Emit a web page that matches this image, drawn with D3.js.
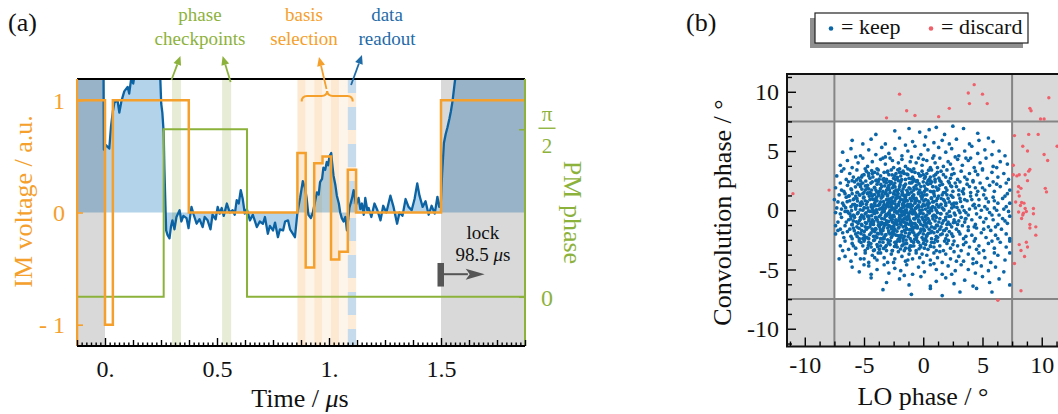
<!DOCTYPE html>
<html><head><meta charset="utf-8">
<script src="https://cdn.jsdelivr.net/npm/d3@7"></script>
<style>
body{margin:0;background:#fff;}
svg{display:block;font-family:"Liberation Serif","DejaVu Serif",serif;}
</style></head><body>
<svg id="c" width="1058" height="414"></svg>
<script>
// ---------------- DATA: panel (a) ----------------
const traceT=[-0.125,-0.007,-0.005,0.005,0.019,0.027,0.035,0.042,0.056,0.064,0.073,0.086,0.101,0.108,0.116,0.126,0.138,0.243,0.251,0.256,0.262,0.265,0.27,0.273,0.279,0.288,0.295,0.301,0.31,0.319,0.333,0.341,0.35,0.364,0.373,0.386,0.396,0.409,0.422,0.436,0.445,0.458,0.471,0.48,0.494,0.503,0.512,0.521,0.53,0.544,0.557,0.57,0.579,0.588,0.597,0.606,0.615,0.624,0.633,0.647,0.66,0.678,0.691,0.705,0.714,0.727,0.736,0.75,0.759,0.772,0.781,0.795,0.804,0.817,0.826,0.839,0.848,0.859,0.871,0.883,0.893,0.9,0.908,0.919,0.928,0.938,0.946,0.954,0.96,0.969,0.975,0.983,0.99,0.996,1.002,1.01,1.013,1.02,1.028,1.035,1.044,1.05,1.057,1.065,1.073,1.08,1.091,1.103,1.11,1.121,1.132,1.14,1.147,1.155,1.162,1.171,1.177,1.189,1.203,1.216,1.23,1.242,1.256,1.274,1.288,1.304,1.315,1.328,1.342,1.355,1.369,1.382,1.394,1.404,1.418,1.431,1.445,1.458,1.472,1.484,1.492,1.499,1.505,1.513,1.521,1.529,1.538,1.544,1.552,1.559,1.567,1.576,1.875];
const traceV=[1.4,1.4,0.56,0.6,0.57,0.77,0.9,0.98,1.0,0.89,0.99,1.08,1.12,1.06,1.18,1.15,1.3,1.4,0.97,0.89,0.71,0.4,0.05,-0.16,-0.2,-0.23,-0.12,-0.07,-0.15,-0.04,0.02,-0.08,-0.03,-0.05,-0.14,0.05,-0.02,-0.1,-0.06,-0.13,-0.04,-0.07,-0.15,-0.02,-0.06,0.05,-0.01,0.04,-0.03,0.08,0.0,0.02,-0.02,0.11,0.08,0.2,0.12,-0.01,0.03,-0.07,-0.02,-0.13,-0.08,-0.1,-0.04,-0.19,-0.12,-0.16,-0.09,-0.22,-0.15,-0.16,-0.08,-0.07,-0.15,-0.19,-0.22,0.0,0.13,0.28,0.22,0.13,-0.02,-0.05,0.0,0.1,0.18,0.16,0.27,0.3,0.4,0.38,0.45,0.42,0.5,0.53,0.46,0.33,0.25,0.15,0.08,0.0,-0.05,-0.08,-0.04,-0.16,0.04,0.13,0.2,0.07,0.13,0.03,0.08,-0.02,0.13,0.02,0.04,-0.04,0.08,0.02,-0.07,0.06,0.0,0.15,0.05,-0.1,0.0,-0.03,0.12,0.05,0.02,0.12,0.26,0.15,0.05,0.1,-0.02,0.06,-0.01,0.14,0.05,0.08,0.35,0.62,0.7,0.76,0.84,0.9,1.0,1.12,1.25,1.4,1.4];
const imT=[-0.125,-0.125,0,0.035,0.374,0.859,0.896,0.934,0.971,1.009,1.046,1.084,1.121,1.5,1.875];
const imV=[-1.3,1,-1,1,0,0.53,-0.49,0.44,0.5,-0.42,-0.35,0.38,0,1,1];
const pmT=[-0.125,0.262,0.634,1.875];
const pmV=[0,Math.PI/2,0,0];
const preRegion=[-0.125,0];
const lockRegion=[1.5,1.875];
const checkpointWindows=[[0.299,0.339],[0.523,0.563]];
const basisEdges=[0.859,0.896,0.934,0.971,1.009,1.046,1.084];
const readoutWindow=[1.084,1.121];
const xMajorA=[0,0.5,1,1.5];
const xMajorLabelsA=["0.","0.5","1.","1.5"];
const imTicks=[1,0,-1];
const imTickLabels=["1","0","- 1"];
const pmTicks=[Math.PI/2,0];

// ---------------- DATA: panel (b) ----------------
const keep=[
[-2.4,6.7],[-1.2,6.9],[-0.3,6.6],[0.5,6.8],[1.1,7.0],[2.5,7.1],[3.4,6.9],[4.6,6.5],[-4.0,6.4],[1.8,6.4],
[-6.0,5.9],[-4.4,6.0],[-3.2,5.6],[-2.0,6.1],[-0.9,5.8],[0.2,6.2],[0.9,5.7],[1.6,5.9],[2.8,6.0],[3.9,5.6],[4.7,5.9],[5.5,6.1],[-5.1,5.6],[-1.5,5.5],[2.2,5.6],[5.9,5.8],
[-6.8,4.9],[-6.1,5.2],[-5.3,4.6],[-4.6,5.1],[-4.0,4.7],[-3.5,5.3],[-2.9,4.8],[-2.4,5.2],[-1.8,4.6],[-1.3,5.0],[-0.7,5.4],[-0.2,4.7],[0.4,5.1],[0.9,4.6],[1.3,5.3],[1.9,4.9],[2.4,5.2],[3.0,4.6],[3.5,5.0],[4.1,5.4],[4.6,4.8],[5.2,5.1],[5.8,4.7],[6.4,5.0],[-5.7,4.5],[-3.2,4.5],[0.1,5.5],[2.7,4.5],[6.9,4.6],[-1.0,4.5],
[-7.0,3.8],[-6.4,4.2],[-6.0,3.6],[-5.5,4.0],[-5.1,4.4],[-4.7,3.7],[-4.3,4.1],[-3.9,3.5],[-3.6,4.3],[-3.2,3.9],[-2.8,4.4],[-2.5,3.6],[-2.1,4.0],[-1.8,4.3],[-1.5,3.7],[-1.1,4.1],[-0.8,3.5],[-0.4,4.4],[-0.1,3.8],[0.3,4.2],[0.6,3.6],[1.0,4.0],[1.4,4.4],[1.7,3.7],[2.1,4.1],[2.5,3.5],[2.9,4.3],[3.3,3.8],[3.8,4.2],[4.3,3.6],[4.8,4.0],[5.3,4.4],[5.9,3.7],[6.5,4.1],[7.1,3.9],[-4.9,3.5],[-3.4,4.4],[-2.0,3.5],[-0.6,4.0],[0.8,4.4],[2.3,3.9],[3.6,4.4],[5.0,3.5],[-6.7,3.5],[-1.3,3.5],[0.0,4.3],[1.2,3.6],[4.0,4.4],[6.2,3.6],[-2.6,4.2],
[-7.3,2.9],[-6.9,3.3],[-6.5,2.6],[-6.2,3.1],[-5.9,2.8],[-5.6,3.4],[-5.3,2.5],[-5.0,3.0],[-4.8,3.3],[-4.5,2.7],[-4.3,3.1],[-4.0,2.5],[-3.8,3.4],[-3.6,2.9],[-3.3,3.2],[-3.1,2.6],[-2.9,3.0],[-2.7,3.4],[-2.5,2.7],[-2.3,3.1],[-2.1,2.5],[-1.9,2.9],[-1.7,3.3],[-1.5,2.6],[-1.3,3.0],[-1.1,3.4],[-0.9,2.8],[-0.7,3.2],[-0.5,2.5],[-0.3,2.9],[-0.1,3.3],[0.1,2.7],[0.3,3.1],[0.5,2.6],[0.7,3.4],[0.9,2.9],[1.2,3.2],[1.4,2.5],[1.7,3.0],[2.0,3.4],[2.3,2.7],[2.6,3.1],[2.9,2.6],[3.2,3.3],[3.5,2.8],[3.9,3.1],[4.2,2.5],[4.6,3.0],[5.0,3.4],[5.4,2.7],[5.8,3.2],[6.3,2.8],[6.8,3.1],[7.2,2.6],[-4.6,2.9],[-3.4,2.6],[-2.4,2.9],[-1.6,3.1],[-0.8,2.6],[0.0,3.0],[0.6,2.8],[1.5,3.3],[2.4,3.0],[3.7,2.6],[-5.2,2.8],[-4.1,3.2],[-2.0,3.2],[-1.2,2.7],[-0.4,3.1],[1.0,2.6],[1.9,2.8],[4.4,3.3],[-6.0,2.5],[-3.0,3.3],[0.4,2.5],
[-7.4,1.9],[-7.0,2.3],[-6.7,1.6],[-6.4,2.1],[-6.1,1.8],[-5.8,2.4],[-5.6,1.5],[-5.3,2.0],[-5.1,2.3],[-4.9,1.7],[-4.7,2.1],[-4.5,1.5],[-4.3,2.4],[-4.1,1.9],[-3.9,2.2],[-3.7,1.6],[-3.5,2.0],[-3.3,2.4],[-3.1,1.7],[-2.9,2.1],[-2.8,1.5],[-2.6,1.9],[-2.4,2.3],[-2.2,1.6],[-2.0,2.0],[-1.9,2.4],[-1.7,1.8],[-1.5,2.2],[-1.3,1.5],[-1.2,1.9],[-1.0,2.3],[-0.8,1.7],[-0.6,2.1],[-0.4,1.5],[-0.2,2.0],[0.0,2.4],[0.2,1.8],[0.4,2.2],[0.6,1.6],[0.8,2.0],[1.0,2.4],[1.2,1.7],[1.4,2.1],[1.7,1.5],[1.9,1.9],[2.2,2.3],[2.5,1.6],[2.8,2.0],[3.1,2.4],[3.4,1.8],[3.7,2.2],[4.0,1.5],[4.4,1.9],[4.8,2.3],[5.2,1.7],[5.6,2.1],[6.0,1.6],[6.5,2.0],[7.0,2.3],[7.3,1.7],[-6.9,1.7],[-5.5,2.2],[-4.6,1.8],[-3.8,2.4],[-3.0,1.9],[-2.3,1.7],[-1.6,2.0],[-0.9,2.4],[-0.3,1.7],[0.3,2.3],[0.9,1.6],[1.5,2.4],[2.0,1.7],[2.7,2.3],[3.3,1.6],[4.2,2.4],[5.0,1.9],[5.9,2.4],[-6.3,2.4],[-5.0,1.5],[-4.0,1.7],[-3.4,1.6],[-2.5,2.1],[-1.8,1.6],[-1.1,1.8],[-0.5,2.4],[0.1,1.6],[0.7,2.4],[1.3,1.8],[2.4,2.0],[3.0,1.7],[3.9,2.0],[4.6,1.6],[6.2,2.2],[-2.7,2.4],
[-7.5,0.9],[-7.1,1.3],[-6.8,0.6],[-6.5,1.1],[-6.2,0.8],[-6.0,1.4],[-5.8,0.5],[-5.6,1.0],[-5.4,1.3],[-5.2,0.7],[-5.0,1.1],[-4.8,0.5],[-4.7,1.4],[-4.5,0.9],[-4.3,1.2],[-4.1,0.6],[-4.0,1.0],[-3.8,1.4],[-3.6,0.7],[-3.5,1.1],[-3.3,0.5],[-3.1,0.9],[-3.0,1.3],[-2.8,0.6],[-2.7,1.0],[-2.5,1.4],[-2.4,0.8],[-2.2,1.2],[-2.1,0.5],[-1.9,0.9],[-1.8,1.3],[-1.6,0.7],[-1.5,1.1],[-1.3,0.5],[-1.2,1.4],[-1.0,0.8],[-0.9,1.2],[-0.7,0.6],[-0.6,1.0],[-0.4,1.4],[-0.3,0.7],[-0.1,1.1],[0.0,0.5],[0.2,0.9],[0.3,1.3],[0.5,0.6],[0.7,1.0],[0.9,1.4],[1.1,0.8],[1.3,1.2],[1.5,0.5],[1.7,0.9],[2.0,1.3],[2.2,0.7],[2.5,1.1],[2.8,0.6],[3.1,1.0],[3.4,1.4],[3.7,0.8],[4.0,1.2],[4.3,0.5],[4.7,0.9],[5.1,1.3],[5.5,0.7],[5.9,1.1],[6.3,0.6],[6.7,1.0],[7.1,1.4],[7.3,0.6],[-6.6,1.4],[-5.9,0.9],[-5.3,0.6],[-4.9,0.8],[-4.4,1.4],[-3.9,0.8],[-3.4,1.2],[-2.9,0.8],[-2.3,1.0],[-1.7,0.6],[-1.4,0.8],[-1.1,1.0],[-0.8,1.3],[-0.5,0.8],[-0.2,1.2],[0.1,1.3],[0.4,0.8],[0.8,0.7],[1.2,1.0],[1.6,1.3],[2.1,1.0],[2.6,0.6],[3.0,1.3],[3.5,0.9],[4.1,0.9],[4.5,1.3],[5.3,1.0],[6.0,0.8],[6.9,1.2],[-7.2,0.7],[-6.3,1.2],[-5.7,1.2],[-5.1,1.4],[-4.2,0.9],[-3.7,0.5],[-3.2,1.4],[-2.6,0.6],[-2.0,1.1],[-1.4,1.3],[-0.7,0.9],[1.9,0.6],
[-7.3,0.2],[-7.0,-0.3],[-6.7,0.4],[-6.4,-0.1],[-6.1,0.3],[-5.9,-0.4],[-5.7,0.1],[-5.5,-0.2],[-5.3,0.4],[-5.1,0.0],[-4.9,-0.3],[-4.7,0.2],[-4.6,-0.5],[-4.4,0.3],[-4.2,-0.1],[-4.1,0.4],[-3.9,-0.2],[-3.7,0.1],[-3.6,-0.4],[-3.4,0.3],[-3.3,-0.1],[-3.1,0.4],[-3.0,-0.3],[-2.8,0.0],[-2.7,0.3],[-2.5,-0.4],[-2.4,0.1],[-2.2,-0.2],[-2.1,0.4],[-1.9,-0.1],[-1.8,0.2],[-1.6,-0.4],[-1.5,0.0],[-1.3,0.3],[-1.2,-0.3],[-1.0,0.1],[-0.9,0.4],[-0.7,-0.2],[-0.6,0.2],[-0.4,-0.5],[-0.3,0.0],[-0.1,0.3],[0.0,-0.3],[0.2,0.1],[0.4,0.4],[0.5,-0.2],[0.7,0.2],[0.9,-0.4],[1.1,0.0],[1.3,0.3],[1.5,-0.3],[1.7,0.1],[1.9,0.4],[2.2,-0.1],[2.4,0.2],[2.7,-0.4],[3.0,0.0],[3.3,0.3],[3.6,-0.2],[3.9,0.1],[4.2,0.4],[4.5,-0.3],[4.9,0.0],[5.2,0.3],[5.6,-0.2],[6.0,0.2],[6.4,-0.4],[6.8,0.1],[7.2,-0.1],[-6.9,0.1],[-6.2,-0.3],[-5.6,0.4],[-5.0,0.2],[-4.5,-0.1],[-4.0,0.0],[-3.5,0.1],[-3.2,0.2],[-2.9,-0.2],[-2.6,0.2],[-2.3,0.3],[-2.0,-0.4],[-1.7,-0.1],[-1.4,-0.2],[-1.1,0.3],[-0.8,-0.1],[-0.5,0.3],[-0.2,-0.2],[0.1,0.4],[0.3,-0.4],[0.6,0.0],[0.8,0.3],[1.2,-0.2],[1.6,0.2],[2.0,-0.3],[2.6,0.3],[3.1,-0.2],[3.8,-0.4],[4.4,0.2],[5.4,0.1],[6.2,0.0],[7.0,0.3],[-7.4,-0.2],[-6.6,-0.1],[-5.2,-0.4],[-4.3,0.1],[-3.8,0.4],[-2.8,-0.4],[-2.3,-0.1],[-1.6,0.4],[-0.9,-0.3],[0.4,-0.1],[1.0,0.2],[2.3,-0.5],[4.7,0.4],[5.8,-0.4],
[-7.2,-1.0],[-6.9,-0.6],[-6.6,-1.3],[-6.3,-0.8],[-6.0,-1.2],[-5.8,-0.6],[-5.6,-1.4],[-5.4,-0.9],[-5.2,-1.2],[-5.0,-0.7],[-4.8,-1.1],[-4.7,-0.5],[-4.5,-1.4],[-4.3,-0.8],[-4.2,-1.2],[-4.0,-0.6],[-3.8,-1.0],[-3.7,-1.4],[-3.5,-0.7],[-3.4,-1.1],[-3.2,-0.5],[-3.1,-0.9],[-2.9,-1.3],[-2.8,-0.6],[-2.6,-1.0],[-2.5,-1.4],[-2.3,-0.8],[-2.2,-1.2],[-2.0,-0.6],[-1.9,-1.0],[-1.7,-1.4],[-1.6,-0.7],[-1.4,-1.1],[-1.3,-0.5],[-1.1,-0.9],[-1.0,-1.3],[-0.8,-0.7],[-0.7,-1.1],[-0.5,-1.4],[-0.4,-0.8],[-0.2,-1.2],[-0.1,-0.6],[0.1,-1.0],[0.3,-1.4],[0.4,-0.7],[0.6,-1.1],[0.8,-0.5],[1.0,-0.9],[1.2,-1.3],[1.4,-0.7],[1.6,-1.1],[1.9,-0.6],[2.1,-1.0],[2.4,-1.4],[2.6,-0.8],[2.9,-1.2],[3.2,-0.6],[3.5,-1.0],[3.8,-1.4],[4.1,-0.8],[4.4,-1.2],[4.8,-0.6],[5.1,-1.0],[5.5,-1.4],[5.9,-0.8],[6.3,-1.2],[6.7,-0.7],[7.1,-1.1],[7.3,-0.5],[-6.5,-1.0],[-5.9,-0.9],[-5.3,-0.6],[-4.9,-1.4],[-4.4,-1.0],[-3.9,-0.8],[-3.3,-1.3],[-3.0,-1.0],[-2.7,-0.8],[-2.4,-1.1],[-2.1,-0.9],[-1.8,-0.8],[-1.5,-1.3],[-1.2,-0.7],[-0.9,-1.1],[-0.6,-0.6],[-0.3,-1.0],[0.0,-1.3],[0.2,-0.8],[0.7,-1.4],[1.1,-0.6],[1.5,-1.4],[2.0,-1.2],[2.7,-1.0],[3.0,-0.9],[3.6,-0.7],[4.3,-1.4],[5.3,-0.7],[6.1,-1.4],[6.9,-0.9],[-7.4,-1.3],[-6.1,-0.5],[-5.5,-1.1],[-4.6,-0.9],[-3.6,-1.2],[-2.6,-0.5],[-1.6,-1.0],[-0.6,-1.3],[0.5,-0.9],[1.7,-0.9],[3.3,-1.3],
[-7.4,-2.0],[-7.0,-1.6],[-6.7,-2.3],[-6.4,-1.8],[-6.1,-2.2],[-5.9,-1.5],[-5.7,-2.0],[-5.4,-2.4],[-5.2,-1.7],[-5.0,-2.1],[-4.8,-1.6],[-4.6,-2.4],[-4.4,-1.9],[-4.2,-2.2],[-4.0,-1.6],[-3.8,-2.0],[-3.6,-2.4],[-3.4,-1.7],[-3.2,-2.1],[-3.0,-1.5],[-2.9,-1.9],[-2.7,-2.3],[-2.5,-1.7],[-2.3,-2.1],[-2.1,-1.5],[-2.0,-2.4],[-1.8,-1.8],[-1.6,-2.2],[-1.4,-1.6],[-1.2,-2.0],[-1.1,-2.4],[-0.9,-1.7],[-0.7,-2.1],[-0.5,-1.5],[-0.3,-1.9],[-0.1,-2.3],[0.1,-1.7],[0.3,-2.1],[0.5,-1.6],[0.7,-2.4],[0.9,-1.9],[1.1,-2.2],[1.4,-1.6],[1.6,-2.0],[1.9,-2.4],[2.2,-1.8],[2.5,-2.2],[2.8,-1.6],[3.1,-2.0],[3.4,-2.4],[3.8,-1.7],[4.1,-2.1],[4.5,-1.5],[4.9,-1.9],[5.3,-2.3],[5.7,-1.7],[6.1,-2.1],[6.6,-1.6],[7.0,-2.0],[7.3,-2.4],[-6.8,-1.9],[-6.0,-2.4],[-5.5,-1.9],[-4.9,-2.3],[-4.3,-1.6],[-3.9,-2.3],[-3.3,-2.4],[-2.8,-2.0],[-2.4,-1.6],[-1.9,-2.1],[-1.5,-1.9],[-1.0,-1.6],[-0.6,-2.4],[-0.2,-1.6],[0.2,-2.4],[0.6,-1.9],[1.2,-1.8],[1.8,-1.7],[2.4,-2.0],[3.0,-1.8],[3.6,-2.2],[4.4,-2.4],[5.1,-1.6],[6.3,-2.4],[-7.2,-1.7],[-6.2,-1.6],[-5.1,-2.4],[-4.1,-1.8],[-3.5,-2.0],[-2.6,-1.9],[-1.7,-2.4],[-0.8,-1.9],[0.0,-2.0],[1.0,-1.5],[2.0,-2.1],
[-7.0,-3.0],[-6.6,-2.6],[-6.3,-3.3],[-6.0,-2.8],[-5.7,-3.2],[-5.4,-2.6],[-5.1,-3.0],[-4.9,-3.4],[-4.6,-2.7],[-4.4,-3.1],[-4.1,-2.5],[-3.9,-2.9],[-3.7,-3.3],[-3.4,-2.7],[-3.2,-3.1],[-3.0,-2.5],[-2.8,-2.9],[-2.6,-3.4],[-2.4,-2.7],[-2.2,-3.1],[-2.0,-2.6],[-1.8,-3.0],[-1.6,-3.4],[-1.4,-2.8],[-1.2,-3.2],[-1.0,-2.6],[-0.8,-3.0],[-0.6,-3.4],[-0.4,-2.7],[-0.2,-3.1],[0.0,-2.5],[0.2,-2.9],[0.4,-3.3],[0.7,-2.7],[0.9,-3.1],[1.2,-2.6],[1.4,-3.0],[1.7,-3.4],[2.0,-2.8],[2.3,-3.2],[2.6,-2.6],[2.9,-3.0],[3.2,-3.4],[3.6,-2.7],[3.9,-3.1],[4.3,-2.6],[4.7,-3.0],[5.1,-3.4],[5.5,-2.8],[6.0,-3.2],[6.5,-2.7],[7.0,-3.1],[7.3,-2.6],[-6.8,-3.4],[-5.9,-3.0],[-5.0,-2.6],[-4.2,-3.4],[-3.6,-3.0],[-2.9,-2.6],[-2.3,-2.9],[-1.7,-2.6],[-1.1,-3.0],[-0.5,-2.6],[0.1,-3.2],[0.6,-3.0],[1.1,-3.4],[1.8,-2.6],[2.5,-2.9],[3.4,-2.9],[4.5,-3.3],[5.8,-2.6],[-4.7,-3.2],[-3.1,-3.4],[-1.5,-3.2],[0.3,-2.6],
[-6.6,-3.9],[-6.1,-4.3],[-5.7,-3.7],[-5.3,-4.1],[-4.9,-3.6],[-4.6,-4.4],[-4.3,-3.8],[-3.9,-4.2],[-3.6,-3.6],[-3.3,-4.0],[-3.0,-4.4],[-2.7,-3.7],[-2.4,-4.1],[-2.1,-3.5],[-1.8,-3.9],[-1.5,-4.3],[-1.2,-3.7],[-0.9,-4.1],[-0.6,-3.6],[-0.3,-4.0],[0.0,-4.4],[0.3,-3.8],[0.6,-4.2],[0.9,-3.6],[1.2,-4.0],[1.6,-4.4],[1.9,-3.7],[2.3,-4.1],[2.6,-3.5],[3.0,-3.9],[3.4,-4.3],[3.8,-3.7],[4.2,-4.1],[4.7,-3.6],[5.2,-4.0],[5.7,-4.4],[6.3,-3.8],[6.9,-4.2],[7.3,-3.6],[-7.1,-4.1],[-5.0,-4.1],[-3.8,-3.6],[-2.5,-4.4],[-1.3,-4.2],[-0.1,-3.7],[1.4,-3.5],[2.8,-4.3],[4.5,-4.4],[6.0,-3.6],[-4.1,-4.0],
[-6.0,-4.8],[-5.4,-5.2],[-4.6,-4.7],[-4.4,-5.4],[-3.9,-5.0],[-3.3,-4.6],[-2.9,-5.3],[-2.4,-4.9],[-1.9,-5.1],[-1.4,-4.6],[-0.9,-5.4],[-0.4,-4.8],[0.1,-5.2],[0.6,-4.6],[1.1,-5.0],[1.6,-5.4],[2.1,-4.7],[2.7,-5.1],[3.2,-4.6],[3.8,-5.0],[4.4,-5.3],[4.9,-4.7],[5.5,-5.1],[6.1,-4.8],[6.8,-5.2],[-5.0,-4.6],[-1.6,-5.5],[0.9,-4.5],[2.4,-5.4],[4.2,-4.5],
[-4.4,-5.7],[-3.1,-6.1],[-2.0,-5.8],[-1.2,-6.3],[-0.2,-5.6],[0.6,-6.4],[1.1,-6.0],[1.9,-5.7],[2.6,-6.2],[3.5,-5.9],[4.2,-6.4],[5.0,-5.6],[5.6,-6.1],[6.4,-5.8],[7.3,-6.3],
[-3.4,-6.7],[-1.0,-7.1],[0.6,-6.6],[1.6,-7.2],[3.1,-6.9],[4.5,-6.6],[5.8,-6.9]
];
// extra "keep" points in the dense core of the cloud
const keepCore=[
[-4.35,3.35],[-3.05,3.22],[-2.15,3.41],[-0.95,3.27],[0.45,3.38],[-1.75,3.18],
[-5.15,2.95],[-3.85,3.08],[-2.62,2.98],[-1.38,3.05],[-0.22,2.92],[1.05,3.02],[-4.62,3.12],
[-5.45,2.72],[-4.25,2.81],[-3.32,2.68],[-2.18,2.77],[-1.02,2.66],[0.18,2.83],[1.32,2.71],[-3.72,2.62],
[-4.85,2.47],[-3.95,2.55],[-2.85,2.42],[-1.82,2.58],[-0.62,2.45],[0.58,2.52],[2.12,2.44],[-2.35,2.61],[-5.62,2.56],
[-5.25,2.21],[-4.42,2.29],[-3.58,2.18],[-2.72,2.27],[-1.95,2.16],[-1.15,2.31],[-0.35,2.22],[0.62,2.26],[1.62,2.19],[-3.12,2.33],
[-5.72,1.98],[-4.88,2.05],[-4.12,1.94],[-3.25,2.06],[-2.38,1.97],[-1.62,2.09],[-0.78,1.93],[0.08,2.04],[1.08,1.96],[2.32,2.07],[-2.92,1.91],
[-6.05,1.72],[-5.18,1.79],[-4.35,1.71],[-3.62,1.82],[-2.85,1.73],[-2.05,1.77],[-1.38,1.69],[-0.55,1.81],[0.32,1.74],[1.25,1.78],[-4.75,1.83],
[-5.55,1.52],[-4.68,1.46],[-3.92,1.55],[-3.15,1.48],[-2.45,1.57],[-1.75,1.44],[-0.98,1.53],[-0.15,1.47],[0.75,1.56],[1.85,1.49],[-2.12,1.41],[-3.48,1.38],
[-6.25,1.22],[-5.35,1.28],[-4.55,1.19],[-3.75,1.26],[-3.02,1.21],[-2.32,1.29],[-1.62,1.23],[-0.88,1.18],[-0.05,1.27],[0.95,1.21],[2.35,1.26],[-4.12,1.33],[-1.25,1.34],
[-5.85,0.97],[-5.05,1.04],[-4.32,0.95],[-3.55,1.03],[-2.88,0.94],[-2.18,1.06],[-1.52,0.98],[-0.82,1.02],[-0.12,0.96],[0.68,1.05],[1.52,0.99],[-2.55,1.12],[-3.92,1.11],
[-6.42,0.72],[-5.55,0.78],[-4.72,0.71],[-4.02,0.79],[-3.35,0.73],[-2.65,0.77],[-2.02,0.69],[-1.35,0.81],[-0.68,0.74],[0.05,0.78],[0.88,0.72],[1.78,0.79],[3.15,0.74],[-3.02,0.62],[-1.72,0.88],
[-5.95,0.47],[-5.12,0.54],[-4.38,0.46],[-3.68,0.53],[-3.02,0.45],[-2.38,0.55],[-1.75,0.48],[-1.08,0.52],[-0.42,0.44],[0.32,0.53],[1.15,0.47],[2.42,0.51],[-2.72,0.39],[-1.42,0.36],[-4.02,0.38],
[-6.55,0.22],[-5.72,0.28],[-4.95,0.21],[-4.25,0.27],[-3.55,0.19],[-2.92,0.29],[-2.28,0.23],[-1.65,0.26],[-1.02,0.18],[-0.35,0.27],[0.42,0.22],[1.32,0.28],[2.85,0.24],[-3.25,0.12],[-1.92,0.11],[-0.68,0.13],
[-6.05,-0.03],[-5.32,0.04],[-4.62,-0.05],[-3.95,0.03],[-3.32,-0.04],[-2.68,0.05],[-2.05,-0.02],[-1.42,0.04],[-0.78,-0.05],[-0.08,0.02],[0.72,-0.04],[1.75,0.03],[3.45,-0.02],[-2.42,-0.12],[-1.12,-0.14],[-4.28,-0.13],
[-6.32,-0.22],[-5.55,-0.28],[-4.82,-0.21],[-4.12,-0.27],[-3.48,-0.19],[-2.85,-0.29],[-2.22,-0.23],[-1.58,-0.26],[-0.95,-0.18],[-0.28,-0.27],[0.52,-0.22],[1.45,-0.28],[2.62,-0.24],[-3.15,-0.36],[-1.82,-0.37],[-0.62,-0.35],
[-5.82,-0.47],[-5.05,-0.54],[-4.35,-0.46],[-3.72,-0.53],[-3.08,-0.45],[-2.45,-0.55],[-1.85,-0.48],[-1.22,-0.52],[-0.55,-0.44],[0.18,-0.53],[1.02,-0.47],[2.18,-0.51],[-2.75,-0.62],[-1.48,-0.64],[-4.02,-0.63],
[-6.12,-0.72],[-5.32,-0.78],[-4.58,-0.71],[-3.92,-0.79],[-3.28,-0.73],[-2.62,-0.77],[-2.02,-0.69],[-1.38,-0.81],[-0.72,-0.74],[-0.02,-0.78],[0.82,-0.72],[1.88,-0.79],[3.55,-0.74],[-2.32,-0.88],[-0.35,-0.91],
[-5.65,-0.97],[-4.88,-1.04],[-4.18,-0.95],[-3.52,-1.03],[-2.92,-0.94],[-2.28,-1.06],[-1.68,-0.98],[-1.05,-1.02],[-0.38,-0.96],[0.38,-1.05],[1.32,-0.99],[2.55,-1.04],[-3.22,-1.12],[-1.92,-1.14],
[-6.02,-1.22],[-5.18,-1.28],[-4.45,-1.19],[-3.78,-1.26],[-3.12,-1.21],[-2.48,-1.29],[-1.88,-1.23],[-1.22,-1.18],[-0.58,-1.27],[0.22,-1.21],[1.12,-1.26],[2.25,-1.19],[-2.78,-1.36],[-0.92,-1.37],
[-5.42,-1.52],[-4.68,-1.46],[-4.02,-1.55],[-3.35,-1.48],[-2.68,-1.57],[-2.05,-1.44],[-1.42,-1.53],[-0.75,-1.47],[0.02,-1.56],[0.92,-1.49],[1.95,-1.54],[-3.62,-1.62],[-1.15,-1.64],
[-5.82,-1.72],[-4.98,-1.79],[-4.25,-1.71],[-3.58,-1.82],[-2.92,-1.73],[-2.22,-1.77],[-1.58,-1.69],[-0.92,-1.81],[-0.18,-1.74],[0.72,-1.78],[1.72,-1.71],[-2.62,-1.88],
[-5.25,-1.98],[-4.52,-2.05],[-3.85,-1.94],[-3.15,-2.06],[-2.48,-1.97],[-1.82,-2.09],[-1.15,-1.93],[-0.45,-2.04],[0.42,-1.96],[1.45,-2.07],[-2.15,-2.14],
[-5.58,-2.21],[-4.75,-2.29],[-4.02,-2.18],[-3.32,-2.27],[-2.62,-2.16],[-1.95,-2.31],[-1.28,-2.22],[-0.55,-2.26],[0.28,-2.19],[1.22,-2.28],
[-4.95,-2.47],[-4.18,-2.55],[-3.48,-2.42],[-2.78,-2.58],[-2.12,-2.45],[-1.45,-2.52],[-0.72,-2.44],[0.12,-2.53],[1.02,-2.47],[2.12,-2.55],
[-5.25,-2.72],[-4.42,-2.81],[-3.68,-2.68],[-2.95,-2.77],[-2.25,-2.66],[-1.55,-2.83],[-0.82,-2.71],[0.02,-2.79],[0.92,-2.73],
[-4.62,-2.95],[-3.85,-3.08],[-3.12,-2.98],[-2.42,-3.05],[-1.72,-2.92],[-0.98,-3.02],[-0.25,-2.96],[0.62,-3.05],
[-4.12,-3.35],[-3.35,-3.22],[-2.62,-3.41],[-1.92,-3.27],[-1.12,-3.38],[-0.35,-3.25]
];
const discard=[
[-3.1,7.8],[-2.0,9.8],[-1.4,8.4],[-0.7,8.0],[1.3,7.9],[2.2,8.6],[3.8,9.9],[3.9,9.0],[4.3,10.6],[5.0,9.8],[5.4,9.0],
[9.0,8.6],[9.1,8.4],[9.9,7.7],[10.2,7.7],[10.6,9.5],
[7.7,6.3],[8.9,6.4],[9.7,6.4],[8.4,5.4],[8.8,5.0],[10.2,4.7],[10.5,4.2],[11.3,5.4],
[7.6,3.8],[9.0,3.45],[8.9,3.3],[7.6,3.0],[7.9,2.9],[8.1,3.0],[8.6,3.0],[8.8,2.5],
[8.05,2.0],[8.25,1.85],[8.0,1.55],[10.3,1.85],[10.4,1.55],[8.1,1.2],
[7.8,0.7],[8.2,0.4],[8.5,0.6],[8.6,0.15],[9.3,0.15],[8.3,0.65],[8.7,-0.1],
[8.05,-0.15],[8.45,-0.25],[9.3,-0.3],[8.4,-0.4],[8.3,-0.7],[9.0,-1.2],[9.0,-1.5],[9.5,-1.4],[9.5,-2.1],
[8.1,-2.9],[8.7,-2.7],[8.8,-3.1],[8.25,-3.4],[8.55,-3.9],[7.7,-4.5],[8.25,-6.8],[6.3,-7.6],
[-11.0,1.4],[-7.95,1.7]
];
const cutoff=[-7.5,7.5];
const bMajor=[-10,-5,0,5,10];
const bMajorLabels=["-10","-5","0","5","10"];

// ---------------- DRAWING ----------------
const ORANGE="#f5a02c", GREEN="#8db23c", BLUE="#0c63a3";
const svg=d3.select("#c");
const defs=svg.append("defs");

// ===== panel (a) =====
const A={l:77,r:525,t:79,b:346};
const xA=d3.scaleLinear().domain([-0.125,1.875]).range([A.l,A.r]);
const yIM=d3.scaleLinear().domain([-1.19,1.19]).range([A.b,A.t]);
const yPM=d3.scaleLinear().domain([-0.462,2.042]).range([A.b,A.t]);

defs.append("clipPath").attr("id","clipA").append("rect")
  .attr("x",A.l).attr("y",A.t).attr("width",A.r-A.l).attr("height",A.b-A.t);
const gA=svg.append("g").attr("clip-path","url(#clipA)");

[preRegion,lockRegion].forEach(r=>{
  gA.append("rect").attr("x",xA(r[0])).attr("y",A.t).attr("width",xA(r[1])-xA(r[0])).attr("height",A.b-A.t).attr("fill","#d9d9d9");
});
checkpointWindows.forEach(w=>{
  gA.append("rect").attr("x",xA(w[0])).attr("y",A.t).attr("width",xA(w[1])-xA(w[0])).attr("height",A.b-A.t).attr("fill","#e6ecd5");
});
for(let i=0;i<basisEdges.length-1;i++){
  gA.append("rect").attr("x",xA(basisEdges[i])).attr("y",A.t)
    .attr("width",xA(basisEdges[i+1])-xA(basisEdges[i])).attr("height",A.b-A.t)
    .attr("fill",i%2===0?"#fde9d1":"#fef5ea");
}
gA.append("rect").attr("x",xA(readoutWindow[0])).attr("y",A.t).attr("width",xA(readoutWindow[1])-xA(readoutWindow[0])).attr("height",A.b-A.t).attr("fill","#fdecd8");
{
  const xm=(xA(readoutWindow[0])+xA(readoutWindow[1]))/2;
  gA.append("line").attr("x1",xm).attr("x2",xm).attr("y1",A.t-9).attr("y2",A.b)
    .attr("stroke","#c6dbeb").attr("stroke-width",xA(readoutWindow[1])-xA(readoutWindow[0]))
    .attr("stroke-dasharray","23 14");
}

const trace=traceT.map((t,i)=>[t,traceV[i]]);
gA.append("path").datum(trace)
  .attr("d",d3.area().x(d=>xA(d[0])).y0(yIM(0)).y1(d=>yIM(d[1])))
  .attr("fill","#b3d3ea").style("mix-blend-mode","multiply");
gA.append("path").datum(trace)
  .attr("d",d3.line().x(d=>xA(d[0])).y(d=>yIM(d[1])))
  .attr("fill","none").attr("stroke",BLUE).attr("stroke-width",2.3).attr("stroke-linejoin","round");

const pm=pmT.map((t,i)=>[t,pmV[i]]);
gA.append("path").datum(pm)
  .attr("d",d3.line().curve(d3.curveStepAfter).x(d=>xA(d[0])).y(d=>yPM(d[1])))
  .attr("fill","none").attr("stroke",GREEN).attr("stroke-width",2);
const im=imT.map((t,i)=>[t,imV[i]]);
gA.append("path").datum(im)
  .attr("d",d3.line().curve(d3.curveStepAfter).x(d=>xA(d[0])).y(d=>yIM(d[1])))
  .attr("fill","none").attr("stroke",ORANGE).attr("stroke-width",2.5);

svg.append("line").attr("x1",A.l).attr("x2",A.r).attr("y1",A.t).attr("y2",A.t).attr("stroke","#000").attr("stroke-width",2);
svg.append("line").attr("x1",A.l).attr("x2",A.l).attr("y1",A.t).attr("y2",A.b).attr("stroke",ORANGE).attr("stroke-width",2);
svg.append("line").attr("x1",A.r).attr("x2",A.r).attr("y1",A.t).attr("y2",A.b).attr("stroke",GREEN).attr("stroke-width",2);

const minorA=d3.range(-0.125,1.8751,0.125/6).filter(v=>Math.abs(v*8-Math.round(v*8))>1e-6);
const medA=d3.range(-0.125,1.8751,0.125).filter(v=>Math.abs(v*2-Math.round(v*2))>1e-6);
function styleAxis(g,color){g.select(".domain").remove();g.selectAll(".tick line").attr("stroke",color).attr("stroke-width",1.4);}
svg.append("g").attr("transform",`translate(0,${A.b})`).call(d3.axisBottom(xA).tickValues(minorA).tickSize(-3.5).tickFormat("")).call(g=>styleAxis(g,"#000"));
svg.append("g").attr("transform",`translate(0,${A.b})`).call(d3.axisBottom(xA).tickValues(medA).tickSize(-6).tickFormat("")).call(g=>styleAxis(g,"#000"));
svg.append("g").attr("transform",`translate(0,${A.b})`)
  .call(d3.axisBottom(xA).tickValues(xMajorA).tickSize(-8).tickPadding(14).tickFormat((d,i)=>xMajorLabelsA[i]))
  .call(g=>{styleAxis(g,"#000");g.selectAll("text").attr("font-size",24).attr("fill","#111").attr("font-family","Liberation Serif");});
svg.append("line").attr("x1",A.l).attr("x2",A.r).attr("y1",A.b).attr("y2",A.b).attr("stroke","#000").attr("stroke-width",2);

svg.append("g").attr("transform",`translate(${A.l},0)`)
  .call(d3.axisLeft(yIM).tickValues(imTicks).tickSize(-6).tickPadding(12).tickFormat((d,i)=>imTickLabels[i]))
  .call(g=>{styleAxis(g,ORANGE);g.selectAll(".tick line").attr("stroke-width",1.6);g.selectAll("text").attr("font-size",24).attr("fill",ORANGE).attr("font-family","Liberation Serif");});
svg.append("g").attr("transform",`translate(${A.r},0)`)
  .call(d3.axisRight(yPM).tickValues(pmTicks).tickSize(-6).tickFormat(""))
  .call(g=>{styleAxis(g,GREEN);g.selectAll(".tick line").attr("stroke-width",1.6);});
{
  const xl=547;
  svg.append("text").attr("x",xl).attr("y",yPM(Math.PI/2)-8).attr("text-anchor","middle").attr("font-size",21).attr("fill",GREEN).text("π");
  svg.append("line").attr("x1",xl-8.5).attr("x2",xl+8.5).attr("y1",yPM(Math.PI/2)-1).attr("y2",yPM(Math.PI/2)-1).attr("stroke",GREEN).attr("stroke-width",1.4);
  svg.append("text").attr("x",xl).attr("y",yPM(Math.PI/2)+24).attr("text-anchor","middle").attr("font-size",21).attr("fill",GREEN).text("2");
  svg.append("text").attr("x",xl).attr("y",yPM(0)+9).attr("text-anchor","middle").attr("font-size",24).attr("fill",GREEN).text("0");
}
svg.append("text").attr("transform",`translate(31.5,201.5) rotate(-90)`).attr("text-anchor","middle").attr("font-size",26).attr("fill",ORANGE).text("IM voltage / a.u.");
svg.append("text").attr("transform",`translate(564,212.5) rotate(90)`).attr("text-anchor","middle").attr("font-size",26).attr("fill",GREEN).text("PM phase");
{
  const t=svg.append("text").attr("x",300).attr("y",407).attr("text-anchor","middle").attr("font-size",26).attr("fill","#111");
  t.append("tspan").text("Time / ");
  t.append("tspan").attr("font-style","italic").text("μ");
  t.append("tspan").text("s");
}
svg.append("text").attr("x",8).attr("y",31).attr("font-size",26).attr("fill","#111").text("(a)");

function arrow(x1,y1,x2,y2,color){
  const ang=Math.atan2(y2-y1,x2-x1), L=9, Wd=4;
  const bx=x2-L*Math.cos(ang), by=y2-L*Math.sin(ang);
  svg.append("line").attr("x1",x1).attr("y1",y1).attr("x2",bx).attr("y2",by).attr("stroke",color).attr("stroke-width",1.8);
  const px=-Math.sin(ang)*Wd, py=Math.cos(ang)*Wd;
  svg.append("polygon").attr("points",`${x2},${y2} ${bx+px},${by+py} ${bx-px},${by-py}`).attr("fill",color);
}
function label2(x,l1,l2,color){
  svg.append("text").attr("x",x).attr("y",21).attr("text-anchor","middle").attr("font-size",19).attr("fill",color).text(l1);
  svg.append("text").attr("x",x).attr("y",45).attr("text-anchor","middle").attr("font-size",19).attr("fill",color).text(l2);
}
label2(200,"phase","checkpoints",GREEN);
label2(304,"basis","selection",ORANGE);
label2(387,"data","readout","#1f6ba8");
arrow(xA(0.319)-5,A.t+1,xA(0.319)+4,56,GREEN);
arrow(xA(0.543)+4,A.t+3,xA(0.543)-4,56,GREEN);
arrow(326.5,89,319,57,ORANGE);
arrow(xA(1.103)-1,A.t+6,362,55,"#1f6ba8");
svg.append("path").attr("d","M301.7,101.5 Q301.7,96 307,96 L321.5,96 Q326.7,96 327.2,91 Q327.7,96 333,96 L347.5,96 Q352.7,96 352.7,101.5")
  .attr("fill","none").attr("stroke",ORANGE).attr("stroke-width",2);

{
  const yl=yIM(-0.55);
  svg.append("rect").attr("x",xA(1.5)-3.5).attr("y",yIM(-0.45)).attr("width",6.5).attr("height",yIM(-0.66)-yIM(-0.45)).attr("fill","#555");
  svg.append("line").attr("x1",xA(1.5)).attr("x2",xA(1.62)).attr("y1",yl).attr("y2",yl).attr("stroke","#555").attr("stroke-width",2);
  const xe=xA(1.695);
  svg.append("polygon").attr("points",`${xe},${yl} ${xe-19},${yl-5.5} ${xe-15},${yl} ${xe-19},${yl+5.5}`).attr("fill","#555");
  svg.append("text").attr("x",xA(1.687)).attr("y",239).attr("text-anchor","middle").attr("font-size",19).attr("fill","#111").text("lock");
  const t=svg.append("text").attr("x",xA(1.687)).attr("y",261).attr("text-anchor","middle").attr("font-size",19).attr("fill","#111");
  t.append("tspan").text("98.5 ");
  t.append("tspan").attr("font-style","italic").text("μ");
  t.append("tspan").text("s");
}

// ===== panel (b) =====
const B={l:787,r:1059.5,t:74,b:346.5};
const xB=d3.scaleLinear().domain([-11.5,11.5]).range([B.l,B.r]);
const yB=d3.scaleLinear().domain([-11.5,11.5]).range([B.b,B.t]);
defs.append("clipPath").attr("id","clipB").append("rect").attr("x",B.l).attr("y",B.t).attr("width",B.r-B.l).attr("height",B.b-B.t);
const gB=svg.append("g").attr("clip-path","url(#clipB)");
gB.append("rect").attr("x",B.l).attr("y",B.t).attr("width",B.r-B.l).attr("height",B.b-B.t).attr("fill","#d9d9d9");
gB.append("rect").attr("x",xB(cutoff[0])).attr("y",yB(cutoff[1])).attr("width",xB(cutoff[1])-xB(cutoff[0])).attr("height",yB(cutoff[0])-yB(cutoff[1])).attr("fill","#fff");
cutoff.forEach(c=>{
  gB.append("line").attr("x1",xB(c)).attr("x2",xB(c)).attr("y1",B.t).attr("y2",B.b).attr("stroke","#858585").attr("stroke-width",2);
  gB.append("line").attr("y1",yB(c)).attr("y2",yB(c)).attr("x1",B.l).attr("x2",B.r).attr("stroke","#858585").attr("stroke-width",2);
});
gB.selectAll("circle.k").data(keep.concat(keepCore)).join("circle").attr("class","k")
  .attr("cx",d=>xB(d[0])).attr("cy",d=>yB(d[1])).attr("r",1.85).attr("fill","#0b66a8");
gB.selectAll("circle.d").data(discard).join("circle").attr("class","d")
  .attr("cx",d=>xB(d[0])).attr("cy",d=>yB(d[1])).attr("r",1.7).attr("fill","#f0606a");

const bMinor=d3.range(-11.25,11.5,1.25).filter(v=>Math.abs(v/5-Math.round(v/5))>1e-6);
svg.append("g").attr("transform",`translate(0,${B.b})`).call(d3.axisBottom(xB).tickValues(bMinor).tickSize(-5).tickFormat("")).call(g=>styleAxis(g,"#000"));
svg.append("g").attr("transform",`translate(${B.l},0)`).call(d3.axisLeft(yB).tickValues(bMinor).tickSize(-5).tickFormat("")).call(g=>styleAxis(g,"#000"));
svg.append("g").attr("transform",`translate(0,${B.b})`)
  .call(d3.axisBottom(xB).tickValues(bMajor).tickSize(-9).tickPadding(9).tickFormat((d,i)=>bMajorLabels[i]))
  .call(g=>{styleAxis(g,"#000");g.selectAll("text").attr("font-size",24).attr("fill","#111").attr("font-family","Liberation Serif");});
svg.append("g").attr("transform",`translate(${B.l},0)`)
  .call(d3.axisLeft(yB).tickValues(bMajor).tickSize(-9).tickPadding(8).tickFormat((d,i)=>bMajorLabels[i]))
  .call(g=>{styleAxis(g,"#000");g.selectAll("text").attr("font-size",24).attr("fill","#111").attr("font-family","Liberation Serif");});
svg.append("path").attr("d",`M${B.r},${B.t} L${B.l},${B.t} L${B.l},${B.b} L${B.r},${B.b}`).attr("fill","none").attr("stroke","#111").attr("stroke-width",2);

svg.append("text").attr("transform",`translate(731,212.5) rotate(-90)`).attr("text-anchor","middle").attr("font-size",26).attr("fill","#111").text("Convolution phase / °");
svg.append("text").attr("x",923).attr("y",405).attr("text-anchor","middle").attr("font-size",26).attr("fill","#111").text("LO phase / °");
svg.append("text").attr("x",686).attr("y",31).attr("font-size",26).attr("fill","#111").text("(b)");

{
  const lx=815, ly=13, lw=213, lh=30;
  svg.append("rect").attr("x",lx-5).attr("y",ly+5).attr("width",lw).attr("height",lh).attr("fill","#8f8f8f");
  svg.append("rect").attr("x",lx).attr("y",ly).attr("width",lw).attr("height",lh).attr("fill","#fff").attr("stroke","#222").attr("stroke-width",1.2);
  svg.append("circle").attr("cx",831).attr("cy",28.5).attr("r",2.3).attr("fill","#0b66a8");
  svg.append("text").attr("x",841).attr("y",34).attr("font-size",22).attr("fill","#111").text("= keep");
  svg.append("circle").attr("cx",931).attr("cy",28.5).attr("r",2.3).attr("fill","#f0606a");
  svg.append("text").attr("x",941).attr("y",34).attr("font-size",22).attr("fill","#111").text("= discard");
}
</script>
</body></html>
